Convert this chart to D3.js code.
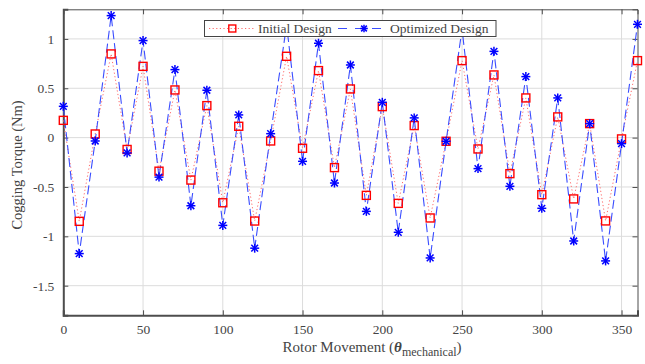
<!DOCTYPE html>
<html><head><meta charset="utf-8">
<script src="https://cdn.jsdelivr.net/npm/d3@7"></script>
<style>body{margin:0;background:#fff}svg{display:block}</style>
</head><body>
<svg id="c" width="645" height="364"></svg>
<script>
const angles = d3.range(0, 361, 10);
const initialDesign = [0.175,-0.848,0.037,0.848,-0.12,0.722,-0.34,0.483,-0.43,0.324,-0.66,0.115,-0.845,-0.034,0.824,-0.108,0.679,-0.304,0.493,-0.585,0.314,-0.666,0.122,-0.814,-0.037,0.78,-0.115,0.635,-0.365,0.402,-0.578,0.21,-0.621,0.142,-0.844,-0.013,0.78];
const optimizedDesign = [0.317,-1.175,-0.034,1.236,-0.155,0.983,-0.40,0.689,-0.69,0.48,-0.889,0.23,-1.12,0.04,1.14,-0.24,0.956,-0.46,0.736,-0.747,0.358,-0.959,0.2,-1.219,-0.037,1.1,-0.314,0.874,-0.493,0.618,-0.716,0.402,-1.047,0.142,-1.249,-0.061,1.148];
const xTicks = [0,50,100,150,200,250,300,350];
const yTicks = [-1.5,-1,-0.5,0,0.5,1];
const seriesNames = ["Initial Design","Optimized Design"];

const svg = d3.select("#c");
const L=63.3, R=637.5, T=9.3, B=315.3;
const x = d3.scaleLinear().domain([0,360]).range([L,R]);
const y = d3.scaleLinear().domain([-1.8,1.3]).range([B,T]);
const font = "'Liberation Serif','Times New Roman',serif";
const txt = "#444", axc = "#4d4d4d";

// grid
const g = svg.append("g");
g.selectAll(".gx").data(xTicks.filter(d=>d>0)).enter().append("line")
  .attr("x1",d=>x(d)).attr("x2",d=>x(d)).attr("y1",T).attr("y2",B)
  .attr("stroke","#dcdcdc").attr("stroke-width",1);
g.selectAll(".gy").data(yTicks).enter().append("line")
  .attr("y1",d=>y(d)).attr("y2",d=>y(d)).attr("x1",L).attr("x2",R)
  .attr("stroke","#dcdcdc").attr("stroke-width",1);

// axes
const ax = svg.append("g").attr("transform",`translate(0,${B})`)
  .call(d3.axisBottom(x).tickValues(xTicks).tickSize(-5).tickPadding(9).tickFormat(d3.format("d")));
const axT = svg.append("g").attr("transform",`translate(0,${T})`)
  .call(d3.axisTop(x).tickValues(xTicks).tickSize(-5).tickFormat(""));
const ay = svg.append("g").attr("transform",`translate(${L},0)`)
  .call(d3.axisLeft(y).tickValues(yTicks).tickSize(-5).tickPadding(9));
const ayR = svg.append("g").attr("transform",`translate(${R},0)`)
  .call(d3.axisRight(y).tickValues(yTicks).tickSize(-5).tickFormat(""));
[ax,axT,ay,ayR].forEach(a=>{
  a.selectAll("path").attr("stroke",axc).attr("stroke-width",1);
  a.selectAll("line").attr("stroke",axc);
  a.selectAll("text").attr("fill",txt).style("font-family",font).style("font-size","13.5px");
});
ax.select("path").attr("stroke-width",2);
ay.select("path").attr("stroke-width",2);
ay.selectAll("text").text(d=>String(d));

// lines
const pts = (arr)=>angles.map((a,i)=>[a,arr[i]]);
const line = d3.line().x(d=>x(d[0])).y(d=>y(d[1]));
svg.append("path").datum(pts(initialDesign)).attr("d",line)
  .attr("fill","none").attr("stroke","#ff6b6b").attr("stroke-width",1).attr("stroke-dasharray","1.2,2.4");
svg.append("path").datum(pts(optimizedDesign)).attr("d",line)
  .attr("fill","none").attr("stroke","#3a4dff").attr("stroke-width",1.1).attr("stroke-dasharray","9,4");

// markers
function star(sel, cx, cy, r){
  const gg = sel.append("g").attr("transform",`translate(${cx},${cy})`)
    .attr("stroke","#0000ff").attr("stroke-width",1.5);
  gg.append("line").attr("x1",-r).attr("x2",r).attr("y1",0).attr("y2",0);
  gg.append("line").attr("y1",-r).attr("y2",r).attr("x1",0).attr("x2",0);
  const k=r*0.75;
  gg.append("line").attr("x1",-k).attr("x2",k).attr("y1",-k).attr("y2",k);
  gg.append("line").attr("x1",-k).attr("x2",k).attr("y1",k).attr("y2",-k);
}
const sq = svg.append("g");
sq.selectAll("rect").data(pts(initialDesign)).enter().append("rect")
  .attr("x",d=>x(d[0])-4).attr("y",d=>y(d[1])-4).attr("width",8).attr("height",8)
  .attr("fill","none").attr("stroke","#ff0000").attr("stroke-width",1.4);
const st = svg.append("g");
pts(optimizedDesign).forEach(d=>star(st,x(d[0]),y(d[1]),4.5));

// legend
const lg = svg.append("g");
lg.append("rect").attr("x",204.5).attr("y",20.5).attr("width",291.5).attr("height",16)
  .attr("fill","#fff").attr("stroke","#444").attr("stroke-width",1);
const ly = 28.5;
lg.append("line").attr("x1",209).attr("x2",255).attr("y1",ly).attr("y2",ly)
  .attr("stroke","#ff6b6b").attr("stroke-width",1).attr("stroke-dasharray","1.2,2.4");
lg.append("rect").attr("x",232.3-3.5).attr("y",ly-3.5).attr("width",7).attr("height",7)
  .attr("fill","none").attr("stroke","#ff0000").attr("stroke-width",1.4);
lg.append("text").attr("x",258).attr("y",ly+4.3).text(seriesNames[0])
  .attr("fill",txt).style("font-family",font).style("font-size","13.5px");
lg.append("line").attr("x1",338).attr("x2",389).attr("y1",ly).attr("y2",ly)
  .attr("stroke","#3a4dff").attr("stroke-width",1.1).attr("stroke-dasharray","9,8");
star(lg,364,ly,3.8);
lg.append("text").attr("x",390).attr("y",ly+4.3).text(seriesNames[1])
  .attr("fill",txt).style("font-family",font).style("font-size","13.5px");

// axis labels
const xl = svg.append("text").attr("x",372).attr("y",352).attr("text-anchor","middle")
  .attr("fill",txt).style("font-family",font).style("font-size","15px");
xl.append("tspan").text("Rotor Movement (");
xl.append("tspan").text("θ").style("font-style","italic").style("font-weight","bold");
xl.append("tspan").text("mechanical").attr("dy",4).style("font-size","12px");
xl.append("tspan").text(")").attr("dy",-4);
svg.append("text").attr("transform","translate(22,165) rotate(-90)").attr("text-anchor","middle")
  .text("Cogging Torque (Nm)").attr("fill",txt).style("font-family",font).style("font-size","14.5px");
</script>
</body></html>
